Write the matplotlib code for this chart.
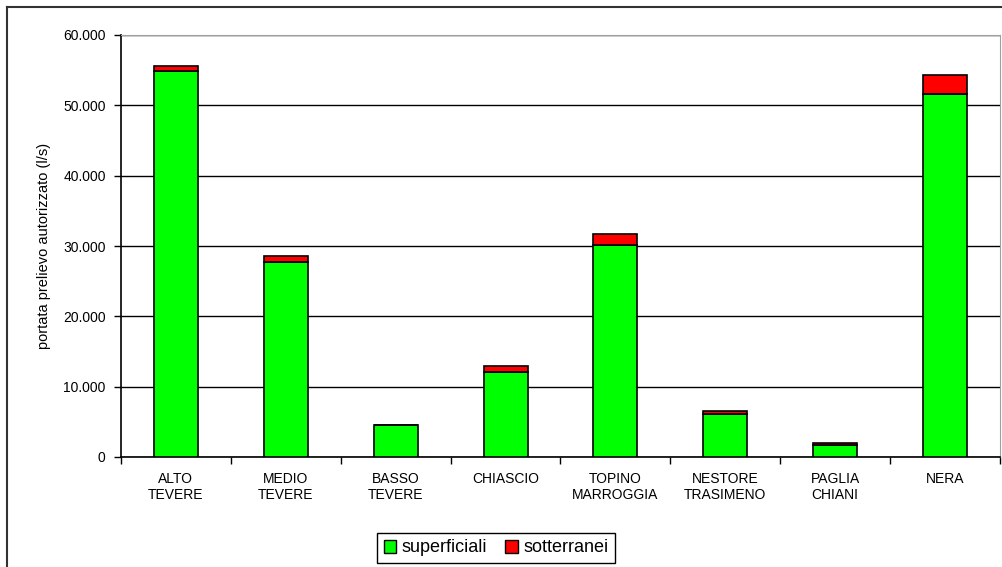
import numpy as np
import matplotlib.pyplot as plt
from matplotlib.lines import Line2D
from matplotlib.patches import Patch
from matplotlib.ticker import FuncFormatter, MultipleLocator

plt.rcParams['font.family'] = ['Liberation Sans', 'DejaVu Sans']

# portate di prelievo autorizzate per sottobacino (l/s)
bacini = ["ALTO\nTEVERE", "MEDIO\nTEVERE", "BASSO\nTEVERE", "CHIASCIO",
          "TOPINO\nMARROGGIA", "NESTORE\nTRASIMENO", "PAGLIA\nCHIANI", "NERA"]
superficiali = [54900, 27750, 4600, 12100, 30150, 6050, 1650, 51650]
sotterranei = [750, 850, 0, 850, 1550, 500, 350, 2700]

verde = "#00ff00"
rosso = "#ff0000"

fig = plt.figure(figsize=(10.03, 5.67), dpi=100)
ax = fig.add_axes([121 / 1003, 110 / 567, 879 / 1003, 422 / 567])

x = np.arange(len(bacini))
ax.bar(x, superficiali, width=0.4, color=verde, edgecolor="black", linewidth=1.2, zorder=3)
ax.bar(x, sotterranei, width=0.4, bottom=superficiali, color=rosso,
       edgecolor="black", linewidth=1.2, zorder=3)

ax.set_xlim(-0.5, len(bacini) - 0.5)
ax.set_ylim(0, 60000)
ax.yaxis.set_major_locator(MultipleLocator(10000))
ax.yaxis.set_major_formatter(FuncFormatter(lambda v, p: f"{int(v):,}".replace(",", ".")))
ax.yaxis.grid(True, color="black", linewidth=1.0, zorder=0)

ax.set_xticks(x)
ax.set_xticklabels(bacini, fontsize=10, linespacing=1.15)
ax.set_xticks(np.arange(-0.5, len(bacini), 1), minor=True)
ax.tick_params(axis="x", which="major", length=0, pad=11)
ax.tick_params(axis="x", which="minor", length=5, width=1, direction="out")
ax.tick_params(axis="y", length=5, width=1, labelsize=10, pad=6)

for lato in ["top", "right"]:
    ax.spines[lato].set_color("#a0a0a0")
for lato in ["left", "bottom"]:
    ax.spines[lato].set_color("black")
    ax.spines[lato].set_linewidth(1.2)

ax.set_ylabel("portata prelievo autorizzato (l/s)", fontsize=10.5, labelpad=9)

# cornice esterna del grafico
fig.add_artist(Line2D([7 / 1003, 7 / 1003], [0, 1 - 7 / 567], color="#333333", linewidth=1.5))
fig.add_artist(Line2D([7 / 1003, 1], [1 - 7 / 567, 1 - 7 / 567], color="#333333", linewidth=1.5))

handles = [Patch(facecolor=verde, edgecolor="black", label="superficiali"),
           Patch(facecolor=rosso, edgecolor="black", label="sotterranei")]
leg = fig.legend(handles=handles, loc="center", bbox_to_anchor=(496 / 1003, 1 - 548 / 567),
                 ncol=2, fontsize=13, frameon=True, fancybox=False, framealpha=1,
                 edgecolor="black", handlelength=0.7, handleheight=0.7,
                 handletextpad=0.3, columnspacing=1.0, borderpad=0.35)
leg.get_frame().set_linewidth(1.0)

fig.savefig("out.png", dpi=100)
